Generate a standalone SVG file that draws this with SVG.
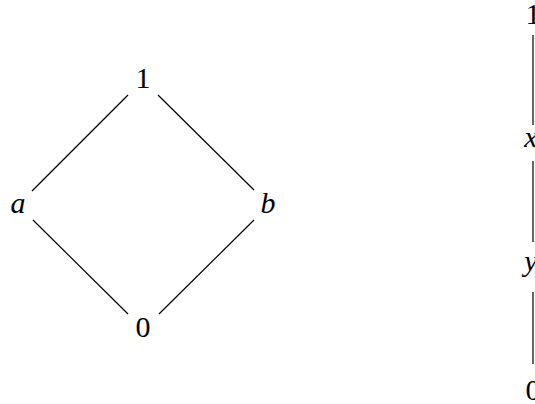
<svg xmlns="http://www.w3.org/2000/svg" width="535" height="404" viewBox="0 0 535 404">
<style>
text{font-family:"Liberation Serif","DejaVu Serif",serif;font-size:30px;fill:#000;text-anchor:middle}
.i{font-style:italic}
line{stroke:#000;stroke-width:1.2}
</style>
<rect width="535" height="404" fill="#fff"/>
<g id="connectors">
<line x1="128" y1="95" x2="32" y2="191"/>
<line x1="158" y1="95" x2="254" y2="190"/>
<line x1="33" y1="220" x2="128" y2="314"/>
<line x1="254" y1="220" x2="159" y2="314"/>
<line x1="533" y1="35" x2="533" y2="125"/>
<line x1="533" y1="161" x2="533" y2="242"/>
<line x1="533" y1="292" x2="533" y2="364"/>
</g>
<g id="d1"><text x="143" y="88">1</text></g>
<g id="da"><text class="i" x="18" y="213">a</text></g>
<g id="db"><text class="i" x="268" y="213">b</text></g>
<g id="d0"><text x="143" y="337">0</text></g>
<g id="c1"><text x="533" y="24">1</text></g>
<g id="cx"><text class="i" x="531" y="147">x</text></g>
<g id="cy"><text class="i" x="531" y="271">y</text></g>
<g id="c0"><text x="533" y="400">0</text></g>
</svg>
